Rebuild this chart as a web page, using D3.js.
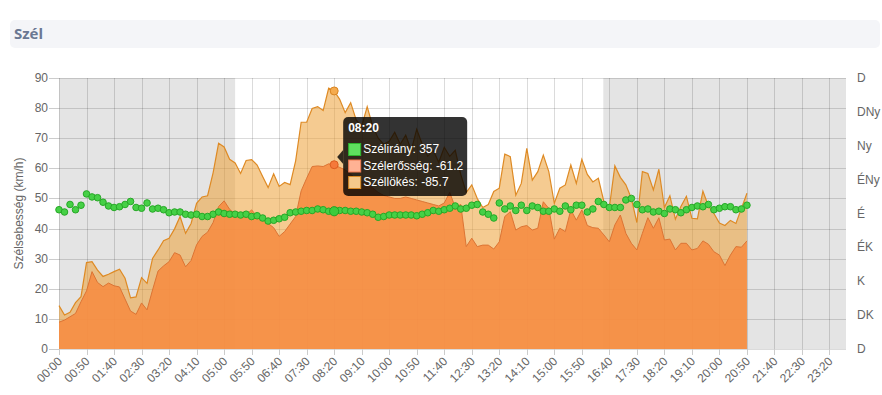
<!DOCTYPE html>
<html><head><meta charset="utf-8">
<script src="https://cdn.jsdelivr.net/npm/d3@7"></script>
<style>
html,body{margin:0;padding:0;background:#fff;}
svg{display:block;font-family:"Liberation Sans",Arial,sans-serif;}
</style></head><body>
<svg id="c" width="882" height="395"></svg>
<script>
const title = "Szél";
const yAxisTitle = "Szélsebesség (km/h)";
const yTicks = [0,10,20,30,40,50,60,70,80,90];
const dirTickValues = [180,135,90,45,0,-45,-90,-135,-180];
const dirTickLabels = ["D","DK","K","ÉK","É","ÉNy","Ny","DNy","D"];
const xTickLabels = ["00:00","00:50","01:40","02:30","03:20","04:10","05:00","05:50","06:40","07:30","08:20","09:10","10:00","10:50","11:40","12:30","13:20","14:10","15:00","15:50","16:40","17:30","18:20","19:10","20:00","20:50","21:40","22:30","23:20"];
const xAxisStart = "00:00";
const xAxisEnd = "23:50";
const stepMinutes = 10;
const nightBands = [["00:00","05:20"],["16:29","23:50"]];

const speed = [8.9,9.6,10.7,11.8,15.7,19.3,25.7,22.1,20.7,21.9,21.0,20.6,16.6,12.6,11.5,15.3,13.0,19.6,25.9,27.6,
29.0,32.0,31.2,27.3,29.4,34.6,37.4,38.8,42.0,47.3,49.2,46.4,44.8,44.0,44.5,46.2,44.0,43.3,41.7,40.3,
37.4,39.0,41.5,44.0,52.5,56.7,60.6,60.8,60.6,61.5,61.2,60.3,59.5,58.0,56.5,55.5,55.0,53.5,52.0,51.0,
50.5,50.0,50.0,50.5,50.0,49.5,49.0,48.5,48.0,47.5,48.5,52.0,47.0,48.0,34.0,36.8,34.0,34.5,34.5,33.2,
35.6,44.0,45.6,39.5,40.6,41.0,39.5,40.1,48.9,46.7,36.5,40.1,39.0,46.2,42.8,46.2,41.0,40.3,40.1,37.9,
35.6,41.2,44.5,38.4,35.1,32.9,38.4,43.6,40.1,43.6,36.2,36.5,32.9,35.1,35.1,32.9,33.4,35.9,34.8,32.3,
31.2,27.7,31.2,34.0,33.8,35.9];

const gust = [14.4,11.3,12.2,15.4,17.4,28.7,29.0,26.2,24.1,24.8,25.7,26.5,23.5,17.0,17.3,23.7,21.8,30.1,32.9,36.0,
36.8,39.9,44.0,38.4,41.7,48.4,50.5,50.9,58.5,68.3,67.1,63.0,61.8,58.3,62.6,62.9,61.1,57.3,53.6,58.2,
54.0,55.3,54.6,62.5,75.3,75.3,79.9,80.5,79.2,86.6,85.7,82.9,78.5,81.8,76.1,74.0,80.5,74.0,70.0,68.0,
69.0,72.0,68.0,71.0,66.0,73.0,68.0,64.0,66.0,62.0,67.0,64.0,66.0,58.0,52.0,54.5,50.0,47.0,48.0,52.3,
53.4,64.7,63.9,51.1,55.0,66.6,56.1,58.9,64.4,58.9,48.4,53.4,54.5,61.1,55.0,63.0,58.0,55.5,56.7,49.0,
47.0,60.8,57.0,54.5,50.0,42.0,58.9,58.3,52.8,59.7,47.0,50.9,43.1,47.3,50.7,43.4,43.2,52.4,47.5,45.0,
41.8,41.0,42.7,41.7,46.7,51.7];

const direction = [355,358,348,355,349,334,338,339,345,350,352,351,348,344,352,353,346,354,353,355,
359,358,358,1,2,1,4,4,1,358,0,1,1,2,1,4,3,6,10,9,
7,5,359,358,357,356,356,354,355,357,357,356,356,357,357,358,359,1,5,4,
2,2,2,2,2,3,1,359,356,357,355,353,350,354,353,349,348,358,1,6,
346,354,350,356,349,356,350,352,357,357,354,357,350,355,349,349,358,354,344,348,
352,352,352,342,340,348,355,354,358,357,0,354,355,359,355,352,350,351,348,355,
353,351,351,355,354,349];

const hoverIndex = 50;
const seriesNames = ["Szélirány","Szélerősség","Széllökés"];

const toMin = s => { const [h,m] = s.split(":").map(Number); return h*60+m; };
const startMin = toMin(xAxisStart);
const timeOf = i => startMin + i*stepMinutes;
const fmt = m => String(Math.floor(m/60)).padStart(2,"0")+":"+String(m%60).padStart(2,"0");

const L = 59, R = 846, T = 78, B = 349;
const svg = d3.select("#c");

// title bar
svg.append("rect").attr("x",10).attr("y",20).attr("width",870).attr("height",28).attr("rx",5).attr("fill","#f4f5f8");
svg.append("text").attr("x",14).attr("y",39).attr("font-family","'Open Sans',sans-serif").attr("font-weight","bold")
  .attr("font-size",15).attr("fill","#6a7892").text(title);

const x = d3.scaleLinear().domain([toMin(xAxisStart), toMin(xAxisEnd)]).range([L,R]);
const y = d3.scaleLinear().domain([0,90]).range([B,T]);
const yDir = d3.scaleLinear().domain([180,-180]).range([B,T]);
const signed = d => d>180 ? d-360 : d;

// night bands
svg.append("g").selectAll("rect").data(nightBands).join("rect")
  .attr("x",d=>x(toMin(d[0]))).attr("y",T)
  .attr("width",d=>x(toMin(d[1]))-x(toMin(d[0]))).attr("height",B-T)
  .attr("fill","#e4e4e4");

// grid
const grid = svg.append("g").attr("stroke","rgba(0,0,0,0.14)").attr("stroke-width",1);
grid.selectAll("line.h").data(yTicks).join("line").attr("class","h")
  .attr("x1",L).attr("x2",R).attr("y1",d=>Math.round(y(d))+0.5).attr("y2",d=>Math.round(y(d))+0.5);
grid.selectAll("line.v").data(xTickLabels).join("line").attr("class","v")
  .attr("x1",d=>Math.round(x(toMin(d)))+0.5).attr("x2",d=>Math.round(x(toMin(d)))+0.5).attr("y1",T).attr("y2",B);

// areas
const idx = d3.range(speed.length);
const areaG = d3.area().x(i=>x(timeOf(i))).y0(y(0)).y1(i=>y(gust[i]));
const lineG = d3.line().x(i=>x(timeOf(i))).y(i=>y(gust[i]));
const areaS = d3.area().x(i=>x(timeOf(i))).y0(y(0)).y1(i=>y(speed[i]));
const lineS = d3.line().x(i=>x(timeOf(i))).y(i=>y(speed[i]));
svg.append("path").attr("d",areaG(idx)).attr("fill","rgba(236,160,55,0.55)");
svg.append("path").attr("d",lineG(idx)).attr("fill","none").attr("stroke","#de8a24").attr("stroke-width",1.2);
svg.append("path").attr("d",areaS(idx)).attr("fill","rgba(246,141,66,0.9)");
svg.append("path").attr("d",lineS(idx)).attr("fill","none").attr("stroke","#dc7434").attr("stroke-width",1);

// axes ticks
const axisG = svg.append("g").attr("stroke","#cccccc");
axisG.selectAll("line.yt").data(yTicks).join("line")
  .attr("x1",49).attr("x2",L).attr("y1",d=>Math.round(y(d))+0.5).attr("y2",d=>Math.round(y(d))+0.5);
axisG.selectAll("line.xt").data(xTickLabels).join("line")
  .attr("x1",d=>Math.round(x(toMin(d)))+0.5).attr("x2",d=>Math.round(x(toMin(d)))+0.5).attr("y1",B).attr("y2",B+6);

// y labels
svg.append("g").selectAll("text").data(yTicks).join("text")
  .attr("x",48).attr("y",d=>y(d)+4).attr("text-anchor","end").attr("font-size",12).attr("fill","#666").text(d=>d);
// right dir labels
svg.append("g").selectAll("text").data(dirTickValues).join("text")
  .attr("x",857).attr("y",d=>yDir(d)+4).attr("text-anchor","start").attr("font-size",12).attr("fill","#666")
  .text((d,i)=>dirTickLabels[i]);
// x labels
svg.append("g").selectAll("text").data(xTickLabels).join("text")
  .attr("transform",d=>`translate(${x(toMin(d))+4},${B+13}) rotate(-45)`)
  .attr("text-anchor","end").attr("font-size",12).attr("fill","#666").text(d=>d);
// y title
svg.append("text").attr("transform",`translate(23,${(T+B)/2}) rotate(-90)`).attr("text-anchor","middle")
  .attr("font-size",12).attr("fill","#666").text(yAxisTitle);

// direction dots
svg.append("g").selectAll("circle").data(idx).join("circle")
  .attr("cx",i=>x(timeOf(i))).attr("cy",i=>yDir(signed(direction[i]))).attr("r",3.3)
  .attr("fill","#46d046").attr("stroke","#26a826").attr("stroke-width",1);

// hover markers
const hx = x(timeOf(hoverIndex));
svg.append("circle").attr("cx",hx).attr("cy",yDir(signed(direction[hoverIndex]))).attr("r",4.6)
  .attr("fill","#3ccc3c").attr("stroke","#22a022").attr("stroke-width",1);
svg.append("circle").attr("cx",hx).attr("cy",y(gust[hoverIndex])).attr("r",4)
  .attr("fill","#f5ab4e").attr("stroke","#d98420").attr("stroke-width",1);
svg.append("circle").attr("cx",hx).attr("cy",y(speed[hoverIndex])).attr("r",4)
  .attr("fill","#f5793a").attr("stroke","#dc5e20").attr("stroke-width",1);

// tooltip
const tx = hx + 9, ty = 117, tw = 124, th = 79;
const tip = svg.append("g");
tip.append("path").attr("d",`M${tx},${ty+33} L${tx-6},${ty+40} L${tx},${ty+47} Z`).attr("fill","rgba(0,0,0,0.8)");
tip.append("rect").attr("x",tx).attr("y",ty).attr("width",tw).attr("height",th).attr("rx",5).attr("fill","rgba(0,0,0,0.8)");
tip.append("text").attr("x",tx+5).attr("y",ty+15).attr("font-size",12).attr("font-weight","bold").attr("fill","#fff")
  .text(fmt(timeOf(hoverIndex)));
const tipItems = [
  {name:seriesNames[0], val:String(direction[hoverIndex]), fill:"#5fe05f", stroke:"#2db52d"},
  {name:seriesNames[1], val:"-"+speed[hoverIndex].toFixed(1), fill:"#ffb294", stroke:"#f07a50"},
  {name:seriesNames[2], val:"-"+gust[hoverIndex].toFixed(1), fill:"#f5c98b", stroke:"#d98a25"}
];
tipItems.forEach((it,k)=>{
  const by = ty + 36 + k*16.5;
  tip.append("rect").attr("x",tx+5.5).attr("y",by-9.5).attr("width",12).attr("height",12)
    .attr("fill",it.fill).attr("stroke",it.stroke).attr("stroke-width",1);
  tip.append("text").attr("x",tx+20).attr("y",by).attr("font-size",12).attr("fill","#fff").text(`${it.name}: ${it.val}`);
});
</script>
</body></html>
